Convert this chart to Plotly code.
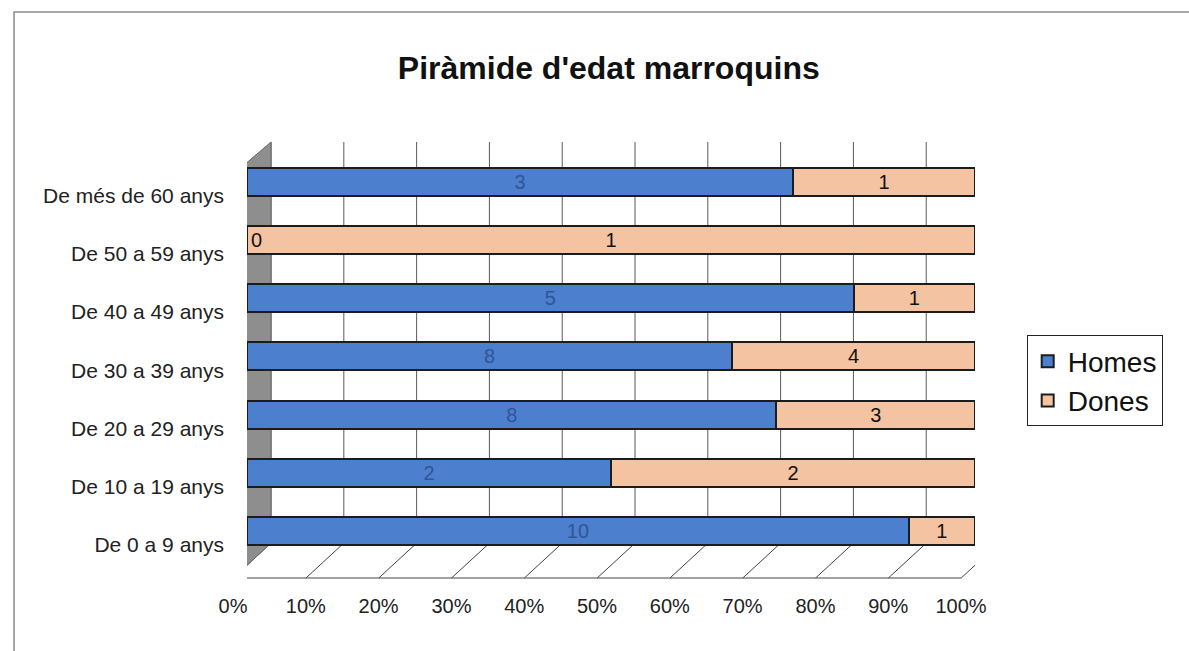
import plotly.graph_objects as go

categories = ["De 0 a 9 anys", "De 10 a 19 anys", "De 20 a 29 anys", "De 30 a 39 anys",
              "De 40 a 49 anys", "De 50 a 59 anys", "De més de 60 anys"]
homes = [10, 2, 8, 8, 5, 0, 3]
dones = [1, 2, 3, 4, 1, 1, 1]
x_ticks = [0, 10, 20, 30, 40, 50, 60, 70, 80, 90, 100]
x_tick_labels = [f"{t}%" for t in x_ticks]

FONT = "Liberation Sans, Arial, sans-serif"
BLUE = "#4d7fcf"
PEACH = "#f3c3a2"
OUTLINE = "#1c1c1c"

# 3D-look geometry (decoration): depth offsets in x data units / paper y
BACK_DX = 3.3     # back wall shift to the right
FRONT_DX = -1.9   # front floor edge shift to the left
FLOOR_Y = 0.08    # back edge of floor in paper y

fig = go.Figure()
fig.add_trace(go.Bar(
    y=categories, x=homes, name="Homes", orientation="h",
    marker=dict(color=BLUE, line=dict(color=OUTLINE, width=2)),
    text=homes, texttemplate="%{text}", textposition="inside",
    insidetextanchor="middle", textangle=0,
    insidetextfont=dict(family=FONT, size=20, color="#2f5597"),
    width=0.48, offset=0.0,
))
fig.add_trace(go.Bar(
    y=categories, x=dones, name="Dones", orientation="h",
    marker=dict(color=PEACH, line=dict(color=OUTLINE, width=2)),
    text=dones, texttemplate="%{text}", textposition="inside",
    insidetextanchor="middle", textangle=0,
    insidetextfont=dict(family=FONT, size=20, color="#111111"),
    width=0.48, offset=0.0,
))

# label for zero-width bars
for c, h in zip(categories, homes):
    if h == 0:
        fig.add_annotation(x=0, y=c, xanchor="left", xshift=2, yshift=14, text=str(h),
                           showarrow=False, xref="x", yref="y",
                           font=dict(family=FONT, size=20, color="#111111"))

shapes = []
# back-wall gridlines
for v in x_ticks:
    shapes.append(dict(type="line", xref="x", yref="paper", layer="below",
                       x0=v + BACK_DX, x1=v + BACK_DX, y0=FLOOR_Y, y1=1.0,
                       line=dict(color="#5a5a5a", width=1)))
# floor outline and slanted floor lines
shapes.append(dict(type="path", xref="x", yref="paper", layer="below",
                   path=f"M {FRONT_DX} 0 L {100 + FRONT_DX} 0 L {100 + BACK_DX} {FLOOR_Y} "
                        f"L {BACK_DX} {FLOOR_Y} Z",
                   fillcolor="white", line=dict(color="#444444", width=1)))
for v in x_ticks[1:-1]:
    shapes.append(dict(type="line", xref="x", yref="paper", layer="below",
                       x0=v + FRONT_DX, x1=v + BACK_DX, y0=0, y1=FLOOR_Y,
                       line=dict(color="#444444", width=1)))
# left gray wall
shapes.append(dict(type="path", xref="x", yref="paper", layer="below",
                   path=f"M {FRONT_DX} 0 L {BACK_DX} {FLOOR_Y} L {BACK_DX} 1.0 "
                        f"L {FRONT_DX + 0.3} 0.93 Z",
                   fillcolor="#8e8e8e", line=dict(color="#666666", width=1)))
# outer chart border
shapes.append(dict(type="rect", xref="paper", yref="paper",
                   x0=-0.32, x1=1.6, y0=-0.6, y1=1.298,
                   line=dict(color="#8a8a8a", width=1.5), fillcolor="rgba(0,0,0,0)"))

fig.update_layout(
    width=1189, height=651,
    margin=dict(l=247, r=214, t=142, b=73, autoexpand=False),
    paper_bgcolor="white", plot_bgcolor="rgba(0,0,0,0)",
    barmode="stack", barnorm="percent",
    shapes=shapes,
    title=dict(text="<b>Piràmide d'edat marroquins</b>", x=0.512, xanchor="center",
               y=1 - 68 / 651, yanchor="middle", font=dict(family=FONT, size=32, color="#111111")),
    font=dict(family=FONT, color="#111111"),
    legend=dict(x=1.071, y=0.452, xanchor="left", yanchor="middle",
                bordercolor="#222222", borderwidth=1, bgcolor="white",
                font=dict(family=FONT, size=28, color="#111111"),
                traceorder="normal", itemsizing="constant", itemwidth=30, tracegroupgap=0),
    showlegend=True,
)
fig.update_xaxes(range=[0, 100], tickvals=x_ticks, ticktext=x_tick_labels,
                 showgrid=False, zeroline=False, showline=False, ticks="", automargin=False,
                 tickfont=dict(family=FONT, size=20, color="#222222"),
                 ticklabelstandoff=14, ticklabelshift=-14)
fig.update_yaxes(categoryorder="array", categoryarray=categories,
                 range=[-0.567, 6.92], automargin=False,
                 showgrid=False, zeroline=False, showline=False, ticks="",
                 tickfont=dict(family=FONT, size=21, color="#222222"), ticklabelstandoff=22)

fig.write_html("out.html", config={"displayModeBar": False},
               post_script="document.body.style.margin='0';document.body.style.overflow='hidden';")
